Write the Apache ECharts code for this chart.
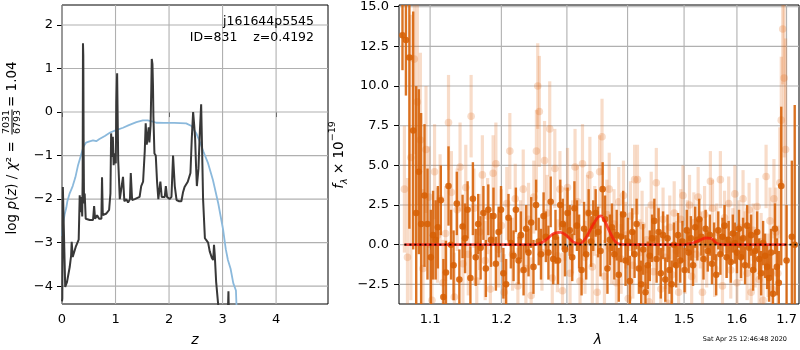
<!DOCTYPE html>
<html><head><meta charset="utf-8">
<script src="https://cdn.jsdelivr.net/npm/echarts@6/dist/echarts.min.js"></script>
<style>html,body{margin:0;padding:0;background:#fff}#c{width:800px;height:350px}</style>
</head><body><div id="c"></div><script>
// ---- left panel: log p(z) ----
const pzZ = [0.000,0.006,0.016,0.042,0.060,0.094,0.144,0.170,0.181,0.200,0.256,0.312,0.331,0.350,0.362,0.378,0.386,0.392,0.398,0.405,0.412,0.424,0.443,0.518,0.580,0.600,0.618,0.656,0.693,0.736,0.748,0.762,0.830,0.880,0.905,0.918,0.935,0.950,0.965,0.985,1.005,1.015,1.030,1.040,1.050,1.080,1.110,1.140,1.165,1.200,1.235,1.270,1.285,1.310,1.360,1.450,1.480,1.515,1.546,1.564,1.583,1.602,1.620,1.633,1.655,1.668,1.677,1.690,1.700,1.708,1.727,1.752,1.776,1.800,1.838,1.863,1.920,1.940,1.963,2.010,2.045,2.075,2.107,2.140,2.190,2.230,2.260,2.290,2.325,2.350,2.375,2.400,2.425,2.450,2.470,2.487,2.505,2.520,2.550,2.574,2.600,2.620,2.636,2.670,2.700,2.730,2.760,2.800,2.825,2.840,2.855,2.880,2.920,2.960,3.090,3.110,3.120,3.200];
const pzLog = [-4.35,-4.28,-1.72,-1.76,-4.02,-3.90,-3.56,-3.30,-2.98,-3.33,-3.10,-2.93,-1.91,-2.30,-1.95,-2.40,-1.50,1.58,1.30,-1.00,-2.10,-1.87,-2.45,-2.48,-2.48,-2.16,-2.45,-2.37,-2.45,-2.45,-1.50,-2.37,-2.33,-2.25,-1.87,-0.49,-1.03,-0.57,-1.22,-0.95,-1.18,0.20,0.89,0.85,-1.10,-2.00,-2.00,-1.49,-2.05,-2.00,-2.08,-2.00,-1.40,-2.02,-2.00,-1.95,-1.70,-1.60,-0.90,-0.26,-0.75,-0.55,-0.35,-0.70,-0.30,0.50,1.22,1.10,0.60,-0.10,-0.95,-1.00,-1.60,-2.00,-1.60,-1.95,-1.95,-1.70,-1.95,-2.00,-1.95,-1.00,-1.70,-2.02,-2.05,-2.05,-1.85,-1.72,-1.75,-1.60,-1.60,-1.40,-0.60,0.00,-0.30,-0.60,-1.25,-1.70,-1.30,-0.50,0.18,-1.00,-2.00,-2.90,-2.95,-3.00,-3.20,-3.35,-3.40,-3.05,-3.30,-3.90,-4.45,-5.00,-5.00,-4.12,-4.80,-5.50];
const priorZ = [0.00,0.02,0.05,0.08,0.10,0.14,0.20,0.25,0.30,0.36,0.40,0.45,0.50,0.58,0.64,0.70,0.80,0.90,1.00,1.14,1.25,1.39,1.51,1.60,1.70,1.76,1.90,2.10,2.32,2.42,2.51,2.58,2.64,2.73,2.82,2.92,3.01,3.06,3.10,3.15,3.20,3.25,3.265];
const priorLog = [-2.85,-2.55,-2.35,-2.20,-2.05,-1.88,-1.70,-1.50,-1.22,-0.97,-0.80,-0.70,-0.68,-0.65,-0.67,-0.62,-0.55,-0.47,-0.42,-0.36,-0.30,-0.23,-0.19,-0.19,-0.22,-0.245,-0.25,-0.25,-0.26,-0.32,-0.49,-0.70,-0.90,-1.18,-1.56,-2.10,-2.70,-3.15,-3.40,-3.60,-3.93,-4.10,-4.60];
const leftXTicks = [0,1,2,3,4];
const leftYTicks = [-4,-3,-2,-1,0,1,2];

// ---- right panel: spectrum ----
const specLam = [1.0635,1.068,1.0725,1.0775,1.0815,1.085,1.088,1.0925,1.0965,1.101,
1.104,1.1075,1.1105,1.1145,1.118,1.1215,1.125,1.1285,1.132,1.1365,
1.14,1.1445,1.148,1.1515,1.1555,1.159,1.163,1.1665,1.17,1.174,
1.1775,1.181,1.185,1.1885,1.192,1.196,1.1995,1.203,1.207,1.2105,
1.214,1.218,1.2215,1.2255,1.229,1.233,1.237,1.2405,1.2445,1.248,
1.252,1.256,1.2595,1.2635,1.267,1.271,1.2745,1.2785,1.282,1.286,
1.2895,1.2935,1.297,1.301,1.3045,1.3085,1.312,1.316,1.3195,1.3235,
1.3275,1.331,1.335,1.339,1.3425,1.3465,1.3505,1.3545,1.358,1.362,
1.366,1.37,1.3735,1.3775,1.3815,1.385,1.389,1.3925,1.3965,1.4005,
1.404,1.408,1.412,1.4155,1.4195,1.4235,1.427,1.431,1.435,1.4385,
1.4425,1.4465,1.4505,1.454,1.458,1.462,1.466,1.47,1.4735,1.4775,
1.4815,1.4855,1.489,1.493,1.497,1.501,1.505,1.5085,1.5125,1.5165,
1.5205,1.5245,1.528,1.532,1.536,1.54,1.544,1.548,1.552,1.556,
1.56,1.564,1.568,1.572,1.576,1.58,1.584,1.588,1.592,1.596,
1.6,1.604,1.608,1.612,1.616,1.62,1.624,1.628,1.632,1.636,
1.64,1.644,1.648,1.652,1.656,1.66,1.664,1.668,1.672,1.676,
1.68,1.684,1.689,1.700,1.711,1.717];
const specFlux = [13.2,12.9,11.8,7.2,2.0,4.6,1.3,3.1,1.3,-0.8,
0.6,0.3,1.1,2.8,-3.3,-1.75,3.7,0.0,-1.3,2.6,
-2.2,1.15,0.4,2.2,-2.1,2.9,-0.8,1.3,-0.2,2.0,
-1.5,2.2,0.3,1.8,-1.2,0.8,2.2,-1.8,-2.5,1.7,
0.1,-0.7,2.2,-1.0,0.6,-1.6,1.0,-0.5,1.4,-1.4,
2.5,0.2,-0.6,1.8,0.5,-0.5,2.7,-0.9,0.5,-1.0,
2.5,1.3,-0.3,2.0,0.9,-0.8,2.3,1.2,0.2,-1.6,
1.0,-0.6,2.0,0.2,1.2,2.0,0.8,-0.4,3.5,1.6,
-1.5,0.3,1.1,-0.6,0.6,-1.9,0.5,1.9,-1.0,0.2,
-2.3,0.8,-0.6,1.3,-1.5,-2.5,-0.3,-3.0,-1.3,-0.7,
0.4,1.5,-0.9,0.8,-1.8,0.6,-2.2,0.4,-1.6,-2.5,
0.0,-1.3,0.6,-1.0,0.2,-1.6,0.9,-0.5,0.4,-1.3,
1.1,0.3,1.6,0.5,-0.9,1.0,-0.4,0.6,-1.2,0.2,
-1.9,0.9,-0.6,0.5,1.2,-0.8,0.3,-1.1,0.7,0.1,
-0.5,1.0,-0.8,0.4,-1.3,1.2,-0.2,0.6,-1.6,-0.4,
0.8,-0.9,-1.8,0.1,-0.7,-1.4,-2.1,-0.5,-3.1,1.0,
-1.4,-2.4,3.7,-1.0,0.5,0.0];
const specErr = [2.2,3.5,10.8,7.5,8.0,5.2,7.0,4.5,3.5,3.0,
2.8,2.5,2.6,2.2,2.4,2.0,2.5,2.2,2.2,2.0,
1.9,2.0,2.2,1.8,2.0,2.3,1.8,1.9,2.0,1.7,
1.8,1.6,1.7,1.8,1.7,1.6,1.5,1.6,1.6,1.5,
1.6,1.6,1.4,1.5,1.5,1.6,1.5,1.5,1.6,1.7,
1.6,1.5,1.6,1.5,1.6,1.7,1.6,1.6,1.7,1.5,
1.6,1.6,1.7,1.6,1.6,1.5,1.7,1.6,1.7,1.6,
1.7,1.6,1.5,1.6,1.6,1.5,1.6,1.6,1.7,1.5,
1.6,1.6,1.5,1.6,1.6,1.7,1.6,1.5,1.6,1.5,
1.6,1.5,1.5,1.6,1.6,1.5,1.6,1.7,1.5,1.6,
1.5,1.4,1.5,1.5,1.6,1.5,1.4,1.5,1.5,1.5,
1.4,1.4,1.4,1.4,1.3,1.4,1.3,1.3,1.4,1.3,
1.3,1.3,1.3,1.2,1.3,1.2,1.3,1.3,1.3,1.2,
1.3,1.2,1.3,1.2,1.3,1.3,1.2,1.3,1.2,1.3,
1.3,1.2,1.3,1.3,1.2,1.3,1.3,1.3,1.3,1.3,
1.3,1.3,1.4,1.4,1.4,1.4,1.5,1.5,1.6,1.6,
1.8,2.0,5.0,3.5,4.8,8.8];

const spec2Lam = [1.066,1.070,1.0745,1.079,1.083,1.087,1.0905,1.0945,1.0985,1.1025,
1.106,1.110,1.1135,1.1175,1.121,1.125,1.129,1.133,1.137,1.141,
1.145,1.149,1.1525,1.1565,1.1605,1.1645,1.1685,1.1725,1.1765,1.180,
1.184,1.188,1.192,1.196,1.200,1.204,1.208,1.2125,1.2165,1.2205,
1.2245,1.2285,1.2325,1.2365,1.2405,1.2445,1.2485,1.2525,1.2545,1.257,
1.261,1.265,1.269,1.273,1.277,1.281,1.285,1.289,1.293,1.297,
1.301,1.305,1.309,1.313,1.317,1.321,1.325,1.329,1.333,1.337,
1.341,1.345,1.349,1.353,1.357,1.361,1.365,1.369,1.373,1.377,
1.381,1.385,1.389,1.393,1.397,1.401,1.405,1.409,1.412,1.417,
1.421,1.425,1.429,1.433,1.437,1.441,1.445,1.450,1.454,1.458,
1.462,1.466,1.470,1.474,1.478,1.482,1.486,1.490,1.494,1.498,
1.502,1.506,1.510,1.514,1.518,1.522,1.526,1.530,1.534,1.538,
1.542,1.549,1.553,1.557,1.561,1.568,1.572,1.576,1.580,1.584,
1.588,1.592,1.596,1.600,1.604,1.608,1.612,1.616,1.620,1.624,
1.628,1.632,1.636,1.640,1.644,1.648,1.652,1.658,1.662,1.666,
1.670,1.674,1.678,1.682,1.686,1.689,1.692,1.695,1.698];
const spec2Flux = [3.5,-0.8,5.5,11.7,9.0,6.6,-1.5,6.0,3.0,-3.5,
4.6,0.6,2.9,-2.4,0.7,7.7,3.3,-3.3,2.2,4.9,
-1.2,3.6,-0.6,8.1,2.3,-2.3,0.8,4.4,-1.0,1.8,
-2.8,4.5,5.1,-0.3,1.2,-3.0,2.6,5.9,-0.6,2.9,
-2.6,0.5,3.5,-1.5,1.6,-3.2,3.0,5.9,10.0,8.4,
-0.5,5.3,2.0,7.3,-2.1,4.8,-0.7,3.5,-2.9,1.3,
3.6,-1.8,0.5,4.9,2.7,-2.3,5.1,-0.8,2.0,4.4,
-1.4,1.5,-3.0,4.6,6.8,-2.0,1.9,3.5,-0.3,1.3,
-2.4,2.7,-0.9,3.1,0.6,-3.4,1.8,-1.3,4.1,4.1,
-0.5,1.2,-2.6,0.3,-3.6,2.5,-1.7,3.9,0.4,-2.8,
1.6,-0.8,-3.7,1.1,-1.9,2.0,-0.4,-3.0,1.6,3.1,
-1.2,0.9,2.5,-2.0,1.4,-0.6,3.0,0.3,-3.0,1.9,
-0.9,4.0,2.3,-1.5,0.8,4.1,-2.6,1.7,-0.3,2.6,
-1.6,0.6,3.2,-2.4,1.1,-0.6,2.9,0.4,-1.8,2.2,
-3.0,0.9,-0.9,2.4,-2.2,0.2,-3.5,4.3,-1.3,1.5,
-2.8,2.9,0.8,-1.8,3.9,7.85,13.6,10.5,6.0];
const spec2Err = [4.0,5.0,9.0,6.0,6.5,5.5,5.0,4.0,3.2,3.0,
3.0,3.0,2.8,2.7,3.0,3.0,2.6,2.8,2.6,2.8,
2.6,2.7,2.6,2.6,2.5,2.5,2.4,2.5,2.5,2.4,
2.5,2.4,2.6,2.4,2.3,2.4,2.3,2.4,2.3,2.2,
2.4,2.3,2.5,2.2,2.3,2.4,2.3,2.6,2.7,3.5,
2.4,2.5,2.4,3.0,2.4,2.5,2.3,2.4,2.4,2.3,
2.5,2.4,2.3,2.4,2.3,2.3,2.5,2.3,2.4,2.4,
2.3,2.2,2.4,2.3,2.4,2.3,2.2,2.3,2.2,2.2,
2.3,2.2,2.2,2.2,2.1,2.3,2.2,2.1,2.2,2.2,
2.1,2.2,2.2,2.1,2.2,2.1,2.1,2.2,2.0,2.1,
2.0,2.0,2.2,2.0,2.0,2.0,1.9,2.0,1.9,1.9,
1.9,1.9,1.9,1.9,1.9,1.8,1.9,1.8,1.9,1.8,
1.8,1.9,1.8,1.8,1.8,1.8,1.8,1.7,1.8,1.7,
1.8,1.7,1.8,1.8,1.7,1.7,1.8,1.7,1.7,1.7,
1.8,1.7,1.8,1.8,1.8,1.8,1.9,2.0,2.0,2.1,
2.3,2.5,2.8,3.0,3.5,4.0,3.5,5.0,7.0];

const modelLam = [1.066,1.10,1.15,1.20,1.25,1.26,1.27,1.28,1.29,1.30,1.31,1.32,1.33,1.34,1.35,1.355,1.36,1.37,1.38,1.39,1.45,1.50,1.51,1.52,1.53,1.54,1.55,1.56,1.57,1.60,1.65,1.70];
const modelFlux = [0,0,0,0,0,0.1,0.4,0.72,0.78,0.55,0.18,0.04,0.4,1.1,1.72,1.82,1.6,0.8,0.15,0.02,0,0,0.05,0.15,0.3,0.42,0.4,0.1,0.02,0,0,0];
const zeroLam = [1.066, 1.73];
const rightXTicks = [1.1,1.2,1.3,1.4,1.5,1.6,1.7];
const rightYTicks = [-2.5,0,2.5,5,7.5,10,12.5,15];

const FONT = 'DejaVu Sans';
const zip2 = (a, b) => a.map((v, i) => [v, b[i]]);
const zip3 = (a, b, c) => a.map((v, i) => [v, b[i], c[i]]);
const minus = s => String(s).replace('-', '\u2212');

const L_X = [0, 4.97], L_Y = [-4.41, 2.46], R_X = [1.059, 1.726], R_Y = [-3.74, 15.11];

function errRender(color, lw, r) {
  return function (params, api) {
    const x = api.value(0), y = api.value(1), e = api.value(2);
    const lo = api.coord([x, y - e]), hi = api.coord([x, y + e]), c = api.coord([x, y]);
    return { type: 'group', children: [
      { type: 'line', shape: { x1: lo[0], y1: lo[1], x2: hi[0], y2: hi[1] }, style: { stroke: color, lineWidth: lw } },
      { type: 'circle', shape: { cx: c[0], cy: c[1], r: r }, style: { fill: color } }
    ]};
  };
}

function axisCommon(ticks, fmt, margin) {
  return {
    axisLine: { show: false },
    axisTick: { show: true, inside: false, length: 5, lineStyle: { color: '#000', width: 1 }, customValues: ticks },
    axisLabel: { color: '#000', fontSize: 13, fontFamily: FONT, margin: margin, interval: 0, customValues: ticks, formatter: fmt },
    splitLine: { show: false }
  };
}

const textGraphics = [
  { type: 'text', x: 314, y: 22, style: { text: 'j161644p5545', font: '12.5px "DejaVu Sans"', fill: '#000', align: 'right', verticalAlign: 'middle' }, z: 50 },
  { type: 'text', x: 314, y: 38, style: { text: 'ID=831    z=0.4192', font: '12.5px "DejaVu Sans"', fill: '#000', align: 'right', verticalAlign: 'middle' }, z: 50 },
  { type: 'text', x: 195, y: 340, style: { text: 'z', font: 'italic 14px "DejaVu Sans"', fill: '#000', align: 'center', verticalAlign: 'middle' } },
  { type: 'text', x: 598, y: 340, style: { text: 'λ', font: 'italic 14px "DejaVu Sans"', fill: '#000', align: 'center', verticalAlign: 'middle' } },
  { type: 'text', x: 787, y: 339, style: { text: 'Sat Apr 25 12:46:48 2020', font: '6.5px "DejaVu Sans"', fill: '#000', align: 'right', verticalAlign: 'middle' } },
  { type: 'group', x: 12, y: 122, rotation: Math.PI / 2, children: [
    { type: 'text', x: -15, y: 0, style: { text: '{n|log }{i|p}{n|(}{i|z}{n|) / }{i|χ}{n|² = }', align: 'right', verticalAlign: 'middle', fill: '#000',
      rich: { n: { fontFamily: FONT, fontSize: 13.5, fill: '#000' }, i: { fontFamily: FONT, fontSize: 13.5, fontStyle: 'italic', fill: '#000' } } } },
    { type: 'text', x: 0, y: -5.5, style: { text: '7031', font: '9.5px "DejaVu Sans"', fill: '#000', align: 'center', verticalAlign: 'middle' } },
    { type: 'rect', shape: { x: -12.5, y: -0.5, width: 25, height: 1 }, style: { fill: '#000' } },
    { type: 'text', x: 0, y: 5.5, style: { text: '6793', font: '9.5px "DejaVu Sans"', fill: '#000', align: 'center', verticalAlign: 'middle' } },
    { type: 'text', x: 15, y: 0, style: { text: '= 1.04', font: '13.5px "DejaVu Sans"', fill: '#000', align: 'left', verticalAlign: 'middle' } }
  ]},
  { type: 'text', x: 339, y: 155, rotation: Math.PI / 2, style: {
    text: '{i|f}{sub|λ}{n| × 10}{sup|−19}', align: 'center', verticalAlign: 'middle', fill: '#000',
    rich: {
      i: { fontFamily: FONT, fontSize: 13.5, fontStyle: 'italic', lineHeight: 22, fill: '#000' },
      n: { fontFamily: FONT, fontSize: 13.5, lineHeight: 22, fill: '#000' },
      sub: { fontFamily: FONT, fontSize: 9.5, fontStyle: 'italic', lineHeight: 11, verticalAlign: 'bottom', fill: '#000' },
      sup: { fontFamily: FONT, fontSize: 9.5, lineHeight: 11, verticalAlign: 'top', fill: '#000' }
    } } }
];

const chart = echarts.init(document.getElementById('c'), null, { renderer: 'canvas' });
chart.setOption({
  animation: false,
  backgroundColor: '#fff',
  grid: [
    { left: 62, top: 5, width: 266, height: 299, show: true, borderColor: '#000', borderWidth: 1 },
    { left: 399, top: 5, width: 400, height: 299, show: true, borderColor: '#000', borderWidth: 1 }
  ],
  xAxis: [
    Object.assign({ gridIndex: 0, type: 'value', min: L_X[0], max: L_X[1] }, axisCommon(leftXTicks, v => String(v), 9)),
    Object.assign({ gridIndex: 1, type: 'log', logBase: 10, min: R_X[0], max: R_X[1] }, axisCommon(rightXTicks, v => Number(v).toFixed(1), 9))
  ],
  yAxis: [
    Object.assign({ gridIndex: 0, type: 'value', min: L_Y[0], max: L_Y[1] }, axisCommon(leftYTicks, v => minus(v), 9)),
    Object.assign({ gridIndex: 1, type: 'value', min: R_Y[0], max: R_Y[1] }, axisCommon(rightYTicks, v => minus(Number(v).toFixed(1)), 10))
  ],
  series: [
    { type: 'line', xAxisIndex: 0, yAxisIndex: 0, data: zip2(priorZ, priorLog), showSymbol: false, symbol: 'none',
      lineStyle: { color: '#8bb9dc', width: 1.8 }, clip: true, z: 4 },
    { type: 'line', xAxisIndex: 0, yAxisIndex: 0, data: zip2(pzZ, pzLog), showSymbol: false, symbol: 'none',
      lineStyle: { color: '#383838', width: 2 }, clip: true, z: 5 },
    { type: 'custom', xAxisIndex: 1, yAxisIndex: 1, data: zip3(spec2Lam, spec2Flux, spec2Err), clip: true,
      encode: { x: 0, y: 1 }, renderItem: errRender('rgba(225,110,30,0.24)', 3.2, 3.8), z: 4 },
    { type: 'custom', xAxisIndex: 1, yAxisIndex: 1, data: zip3(specLam, specFlux, specErr), clip: true,
      encode: { x: 0, y: 1 }, renderItem: errRender('rgba(214,96,4,0.88)', 2.4, 3.3), z: 5 },
    { type: 'line', xAxisIndex: 1, yAxisIndex: 1, data: zip2(modelLam, modelFlux), showSymbol: false, symbol: 'none', smooth: 0.35,
      lineStyle: { color: 'rgba(250,20,10,0.72)', width: 2.8 }, clip: true, z: 6 },
    { type: 'line', xAxisIndex: 1, yAxisIndex: 1, data: zip2(zeroLam, [0, 0]), showSymbol: false, symbol: 'none',
      lineStyle: { color: '#000', width: 1.8, type: [2, 3] }, clip: true, z: 7 }
  ]
});

// grid lines placed through the axes' own scales (convertToPixel), drawn as thin filled bars
function gridGraphics(gi, xs, ys, xr, yr) {
  const f = { xAxisIndex: gi, yAxisIndex: gi };
  const out = [];
  const st = { fill: '#b0b0b0' };
  xs.forEach(v => {
    const a = chart.convertToPixel(f, [v, yr[0]]), b = chart.convertToPixel(f, [v, yr[1]]);
    out.push({ type: 'rect', silent: true, z: 1, shape: { x: a[0] - 0.55, y: b[1], width: 1.1, height: a[1] - b[1] }, style: st });
  });
  ys.forEach(v => {
    const a = chart.convertToPixel(f, [xr[0], v]), b = chart.convertToPixel(f, [xr[1], v]);
    out.push({ type: 'rect', silent: true, z: 1, shape: { x: a[0], y: a[1] - 0.55, width: b[0] - a[0], height: 1.1 }, style: st });
  });
  return out;
}
chart.setOption({
  graphic: textGraphics.concat(
    gridGraphics(0, leftXTicks, leftYTicks, L_X, L_Y),
    gridGraphics(1, rightXTicks, rightYTicks, R_X, R_Y))
});
</script></body></html>
